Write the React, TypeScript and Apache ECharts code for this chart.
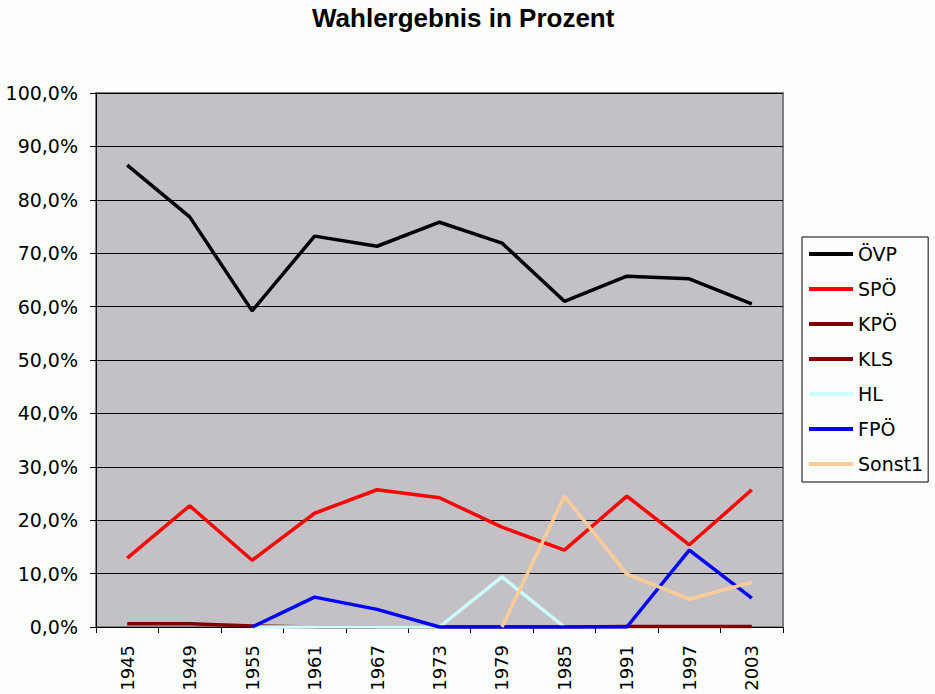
import React, { useEffect, useRef } from "react";
import * as echarts from "echarts";

const years = ["1945", "1949", "1955", "1961", "1967", "1973", "1979", "1985", "1991", "1997", "2003"];
const ovp = [86.5, 76.8, 59.2, 73.2, 71.3, 75.8, 71.9, 61.0, 65.7, 65.2, 60.5];
const spo = [12.9, 22.7, 12.5, 21.3, 25.7, 24.2, 18.7, 14.4, 24.5, 15.4, 25.7];
const kpo = [0.6, 0.6, 0.2, 0, 0, 0, 0, 0, 0.1, 0.1, 0.1];
const kls = [null, null, null, 0, 0, null, null, null, null, null, null];
const hl = [null, null, 0, 0, 0, 0, 9.4, 0, null, null, null];
const fpo = [null, null, 0, 5.6, 3.3, 0, 0, 0, 0, 14.4, 5.4];
const sonst1 = [null, null, null, null, null, null, 0, 24.5, 9.9, 5.2, 8.4];

const seriesDefs = [
  { name: "ÖVP", data: ovp, color: "#000000" },
  { name: "SPÖ", data: spo, color: "#FF0000" },
  { name: "KPÖ", data: kpo, color: "#800000" },
  { name: "KLS", data: kls, color: "#800000" },
  { name: "HL", data: hl, color: "#CCFFFF" },
  { name: "FPÖ", data: fpo, color: "#0000FF" },
  { name: "Sonst1", data: sonst1, color: "#FFCC99" },
];

const FONT = "DejaVu Sans";

export default function App() {
  const ref = useRef<HTMLDivElement>(null);
  useEffect(() => {
    if (!ref.current) return;
    const chart = echarts.init(ref.current, undefined, { renderer: "svg" });
    chart.setOption({
      animation: false,
      backgroundColor: "#FCFEFC",
      title: {
        text: "Wahlergebnis in Prozent",
        left: 307,
        top: 0,
        textStyle: { fontFamily: "Liberation Sans", fontWeight: "bold", fontSize: 26, color: "#000" },
      },
      grid: {
        left: 96,
        top: 93,
        width: 687,
        height: 534,
        containLabel: false,
        outerBoundsMode: "none",
        show: true,
        backgroundColor: "#C3C1C6",
        borderColor: "#808080",
        borderWidth: 2,
      },
      legend: {
        orient: "vertical",
        left: 802,
        top: 237,
        icon: "rect",
        itemWidth: 44,
        itemHeight: 4,
        itemGap: 15,
        padding: [7, 5, 8, 7],
        borderColor: "#000",
        borderWidth: 1,
        backgroundColor: "#FCFEFC",
        textStyle: { fontFamily: FONT, fontSize: 19, color: "#000", lineHeight: 20 },
        data: seriesDefs.map((s) => s.name),
      },
      xAxis: {
        type: "category",
        data: years,
        boundaryGap: true,
        axisLine: { lineStyle: { color: "#000", width: 1 } },
        axisTick: { show: true, length: 6, interval: 0, lineStyle: { color: "#000" } },
        axisLabel: { rotate: 90, interval: 0, margin: 18, fontFamily: FONT, fontSize: 18, color: "#000" },
        splitLine: { show: false },
      },
      yAxis: {
        type: "value",
        min: 0,
        max: 100,
        interval: 10,
        axisLine: { show: true, lineStyle: { color: "#000", width: 1 } },
        axisTick: { show: true, length: 6, lineStyle: { color: "#000" } },
        axisLabel: {
          margin: 18,
          fontFamily: FONT,
          fontSize: 19,
          color: "#000",
          formatter: (v: number) => v.toFixed(1).replace(".", ",") + "%",
        },
        splitLine: { show: true, lineStyle: { color: "#000", width: 1 } },
      },
      series: seriesDefs.map((s) => ({
        name: s.name,
        type: "line",
        data: s.data,
        showSymbol: false,
        symbol: "none",
        connectNulls: false,
        lineStyle: { color: s.color, width: 3.5 },
        itemStyle: { color: s.color },
      })),
    });
    return () => chart.dispose();
  }, []);
  return <div ref={ref} style={{ position: "fixed", left: 0, top: 0, width: 935, height: 694 }} />;
}
